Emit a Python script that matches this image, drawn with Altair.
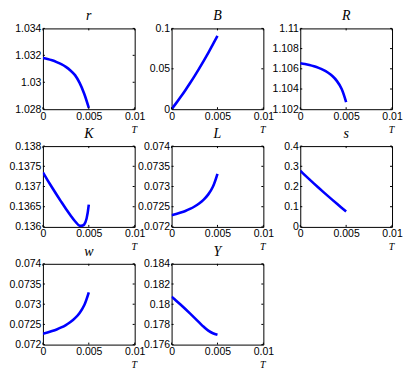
import altair as alt
import pandas as pd

T = [0, 0.0005, 0.001, 0.0015, 0.002, 0.0025, 0.003, 0.0035, 0.004, 0.0045, 0.005]

r_vals = [1.0318, 1.03173, 1.03163, 1.0315, 1.03134, 1.03114, 1.03088, 1.03053, 1.02995, 1.02915, 1.0281]
B_vals = [0.0, 0.0075, 0.01535, 0.02355, 0.0321, 0.041, 0.05025, 0.05985, 0.0698, 0.0801, 0.0907]
R_vals = [1.10655, 1.10648, 1.10638, 1.10625, 1.10609, 1.10589, 1.10563, 1.10528, 1.10478, 1.10403, 1.1027]
K_vals = [0.13735, 0.13716, 0.136975, 0.136795, 0.13662, 0.13645, 0.13629, 0.13614, 0.13603, 0.13606, 0.13655]
L_vals = [0.07229, 0.07232, 0.072355, 0.072395, 0.072445, 0.072505, 0.07258, 0.072675, 0.072805, 0.072995, 0.073315]
s_vals = [0.278, 0.2565, 0.2353, 0.2144, 0.1938, 0.1735, 0.1535, 0.1338, 0.1144, 0.0953, 0.0765]
w_vals = [0.07227, 0.0723, 0.072335, 0.072375, 0.072425, 0.072485, 0.07256, 0.072655, 0.072785, 0.072975, 0.073295]
Y_vals = [0.18075, 0.18035, 0.17994, 0.17952, 0.17909, 0.17865, 0.1782, 0.17776, 0.17738, 0.17713, 0.17698]

x_ticks = [0, 0.005, 0.01]

panels_spec = [
    ("r", r_vals, [1.028, 1.034], [1.028, 1.03, 1.032, 1.034]),
    ("B", B_vals, [0, 0.1], [0, 0.05, 0.1]),
    ("R", R_vals, [1.102, 1.11], [1.102, 1.104, 1.106, 1.108, 1.11]),
    ("K", K_vals, [0.136, 0.138], [0.136, 0.1365, 0.137, 0.1375, 0.138]),
    ("L", L_vals, [0.072, 0.074], [0.072, 0.0725, 0.073, 0.0735, 0.074]),
    ("s", s_vals, [0, 0.4], [0, 0.1, 0.2, 0.3, 0.4]),
    ("w", w_vals, [0.072, 0.074], [0.072, 0.0725, 0.073, 0.0735, 0.074]),
    ("Y", Y_vals, [0.176, 0.184], [0.176, 0.178, 0.18, 0.182, 0.184]),
]

W, H = 92, 81
TL = 2


def panel(name, vals, ydom, yticks):
    df = pd.DataFrame({"T": T, "v": vals})
    xs = alt.Scale(domain=[0, 0.01], nice=False, zero=False)
    ys = alt.Scale(domain=ydom, nice=False, zero=False)
    xaxis = alt.Axis(
        values=x_ticks, format="~g", title="T", labelFlush=False,
        titleFont="Liberation Serif", titleFontStyle="italic",
        titleFontWeight="normal", titleFontSize=10, titleColor="black",
        titleX=W - 1, titleY=23, titleAlign="center", titleBaseline="alphabetic")
    yaxis = alt.Axis(values=yticks, format="~g", title=None, labelFlush=False)
    line = alt.Chart(df).mark_line(
        color="#0000ff", strokeWidth=2.6, interpolate="catmull-rom", clip=True
    ).encode(
        x=alt.X("T:Q", scale=xs, axis=xaxis),
        y=alt.Y("v:Q", scale=ys, axis=yaxis),
    )
    xt = pd.DataFrame({"t": x_ticks})
    yt = pd.DataFrame({"t": yticks})
    bottom = alt.Chart(xt).mark_rule(color="black", strokeWidth=1).encode(
        x=alt.X("t:Q", scale=xs, axis=xaxis), y=alt.value(H), y2=alt.value(H - TL))
    top = alt.Chart(xt).mark_rule(color="black", strokeWidth=1).encode(
        x=alt.X("t:Q", scale=xs, axis=xaxis), y=alt.value(0), y2=alt.value(TL))
    left = alt.Chart(yt).mark_rule(color="black", strokeWidth=1).encode(
        y=alt.Y("t:Q", scale=ys, axis=yaxis), x=alt.value(0), x2=alt.value(TL))
    right = alt.Chart(yt).mark_rule(color="black", strokeWidth=1).encode(
        y=alt.Y("t:Q", scale=ys, axis=yaxis), x=alt.value(W - TL), x2=alt.value(W))
    return alt.layer(line, bottom, top, left, right).properties(
        width=W, height=H,
        title=alt.Title(name, font="Liberation Serif", fontStyle="italic",
                        fontWeight="normal", fontSize=14, color="black", offset=0),
    )


chart = alt.concat(
    *[panel(*p) for p in panels_spec], columns=3, spacing=37, bounds="flush"
).configure_view(
    stroke="black", strokeWidth=1
).configure_axis(
    domain=False, ticks=False, grid=False,
    labelFont="Liberation Sans", labelFontSize=10.5, labelColor="black", labelPadding=2,
).properties(padding=0, background="white")

chart.save("out.html", embed_options={"renderer": "svg", "actions": False})
